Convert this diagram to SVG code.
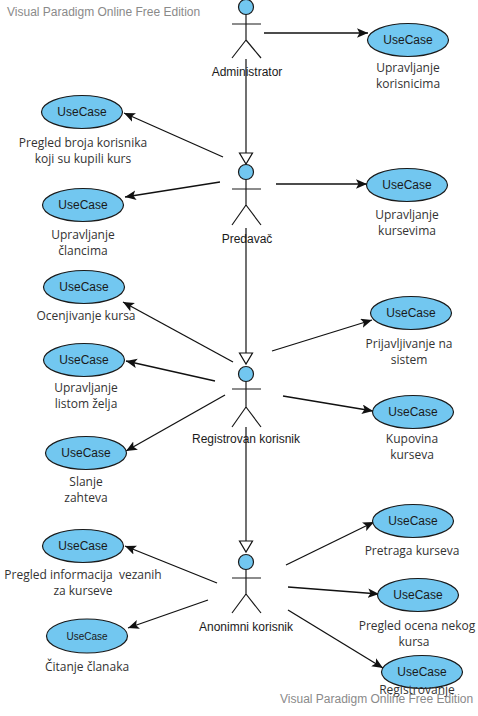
<svg xmlns="http://www.w3.org/2000/svg" width="478" height="716" viewBox="0 0 478 716">
<defs>
<style>
.uc ellipse{fill:#72C7F0;stroke:#1a1a1a;stroke-width:1.2}
.uct{font-family:"Liberation Sans",Arial,sans-serif;font-size:12px;fill:#1a1a1a;text-anchor:middle}
.lbl{font-family:"Open Sans","Noto Sans",sans-serif;font-size:12px;fill:#333;text-anchor:middle}
.act circle{fill:#72C7F0;stroke:#1a1a1a;stroke-width:1.2}
.act path{fill:none;stroke:#1a1a1a;stroke-width:1.2}
.actl{font-family:"Liberation Sans",Arial,sans-serif;font-size:12px;fill:#1a1a1a;text-anchor:middle}
.wm{font-family:"Liberation Sans",Arial,sans-serif;font-size:12px;fill:#8a8a8a}
.assoc{stroke:#111;stroke-width:1.3;fill:none;marker-end:url(#arr)}
.gen{stroke:#111;stroke-width:1.2;fill:none}
.tri{fill:#fff;stroke:#111;stroke-width:1.2}
</style>
<marker id="arr" markerUnits="userSpaceOnUse" markerWidth="12" markerHeight="10" refX="11" refY="4.75" orient="auto">
<path d="M0,0 L11,4.75 L0,9.5 L2.5,4.75 z" fill="#111"/>
</marker>
</defs>
<rect width="478" height="716" fill="#fff"/>

<text class="wm" x="7" y="16">Visual Paradigm Online Free Edition</text>

<g id="connectors">
<line class="gen" x1="246" y1="59" x2="246" y2="153"/>
<polygon class="tri" points="239.5,153 252.5,153 246,164"/>
<line class="gen" x1="246" y1="228" x2="246" y2="353"/>
<polygon class="tri" points="239.5,353 252.5,353 246,364"/>
<line class="gen" x1="246" y1="427" x2="246" y2="541"/>
<polygon class="tri" points="239.5,541 252.5,541 246,552"/>

<line class="assoc" x1="264" y1="33" x2="368" y2="33"/>
<line class="assoc" x1="223" y1="157" x2="124" y2="113"/>
<line class="assoc" x1="220" y1="182" x2="125" y2="197"/>
<line class="assoc" x1="276" y1="184" x2="367" y2="184"/>
<line class="assoc" x1="233" y1="362" x2="123" y2="302"/>
<line class="assoc" x1="215" y1="381" x2="126" y2="361"/>
<line class="assoc" x1="225" y1="395" x2="126" y2="451"/>
<line class="assoc" x1="272" y1="351" x2="372" y2="320"/>
<line class="assoc" x1="283" y1="396" x2="373" y2="411"/>
<line class="assoc" x1="217" y1="583" x2="125" y2="546"/>
<line class="assoc" x1="208" y1="600" x2="128" y2="628"/>
<line class="assoc" x1="286" y1="565" x2="374" y2="522"/>
<line class="assoc" x1="288" y1="587" x2="379" y2="594"/>
<line class="assoc" x1="288" y1="610" x2="383" y2="668"/>
</g>

<g id="actor-administrator" class="act">
<circle cx="246" cy="7" r="7.5"/>
<path d="M246,14.5 V40 M232,24 H261 M246,40 L232,58 M246,40 L261,58"/>
<text class="actl" x="247" y="76">Administrator</text>
</g>
<g id="actor-predavac" class="act">
<circle cx="246" cy="172" r="7.5"/>
<path d="M246,179.5 V205 M232,189 H261 M246,205 L232,225 M246,205 L261,225"/>
<text class="actl" x="247" y="243">Predavač</text>
</g>
<g id="actor-registrovan" class="act">
<circle cx="246" cy="374" r="7.5"/>
<path d="M246,381.5 V407 M232,389 H261 M246,407 L232,427 M246,407 L261,427"/>
<text class="actl" x="246" y="443">Registrovan korisnik</text>
</g>
<g id="actor-anonimni" class="act">
<circle cx="246" cy="562" r="7.5"/>
<path d="M246,569.5 V594 M232,578 H261 M246,594 L232,613 M246,594 L261,613"/>
<text class="actl" x="246" y="631">Anonimni korisnik</text>
</g>

<g id="uc-upravljanje-korisnicima" class="uc">
<ellipse cx="408" cy="40" rx="40.5" ry="16.5"/>
<text class="uct" x="408" y="44">UseCase</text>
<text class="lbl" x="408" y="72">Upravljanje</text>
<text class="lbl" x="408" y="88">korisnicima</text>
</g>
<g id="uc-pregled-broja" class="uc">
<ellipse cx="82" cy="112" rx="40.5" ry="16.5"/>
<text class="uct" x="82" y="116">UseCase</text>
<text class="lbl" x="83" y="146.5">Pregled broja korisnika</text>
<text class="lbl" x="83" y="162.5">koji su kupili kurs</text>
</g>
<g id="uc-upravljanje-clancima" class="uc">
<ellipse cx="83" cy="205" rx="40.5" ry="16.5"/>
<text class="uct" x="83" y="209">UseCase</text>
<text class="lbl" x="83" y="238.5">Upravljanje</text>
<text class="lbl" x="83" y="254.5">člancima</text>
</g>
<g id="uc-upravljanje-kursevima" class="uc">
<ellipse cx="407" cy="185" rx="40.5" ry="16.5"/>
<text class="uct" x="407" y="189">UseCase</text>
<text class="lbl" x="407" y="218.5">Upravljanje</text>
<text class="lbl" x="407" y="234.5">kursevima</text>
</g>
<g id="uc-ocenjivanje" class="uc">
<ellipse cx="84" cy="287" rx="40.5" ry="16.5"/>
<text class="uct" x="84" y="291">UseCase</text>
<text class="lbl" x="86" y="320">Ocenjivanje kursa</text>
</g>
<g id="uc-lista-zelja" class="uc">
<ellipse cx="84" cy="360" rx="40.5" ry="16.5"/>
<text class="uct" x="84" y="364">UseCase</text>
<text class="lbl" x="86" y="391.5">Upravljanje</text>
<text class="lbl" x="86" y="407.5">listom želja</text>
</g>
<g id="uc-slanje-zahteva" class="uc">
<ellipse cx="86" cy="453" rx="40.5" ry="16.5"/>
<text class="uct" x="86" y="457">UseCase</text>
<text class="lbl" x="86" y="485.5">Slanje</text>
<text class="lbl" x="86" y="501.5">zahteva</text>
</g>
<g id="uc-prijavljivanje" class="uc">
<ellipse cx="411" cy="313" rx="40.5" ry="16.5"/>
<text class="uct" x="411" y="317">UseCase</text>
<text class="lbl" x="409" y="347.5">Prijavljivanje na</text>
<text class="lbl" x="409" y="363.5">sistem</text>
</g>
<g id="uc-kupovina" class="uc">
<ellipse cx="413" cy="412" rx="40.5" ry="16.5"/>
<text class="uct" x="413" y="416">UseCase</text>
<text class="lbl" x="412" y="442.5">Kupovina</text>
<text class="lbl" x="412" y="458.5">kurseva</text>
</g>
<g id="uc-pregled-informacija" class="uc">
<ellipse cx="83" cy="546" rx="40.5" ry="16.5"/>
<text class="uct" x="83" y="550">UseCase</text>
<text class="lbl" x="83" y="579" style="white-space:pre">Pregled informacija  vezanih</text>
<text class="lbl" x="83" y="595">za kurseve</text>
</g>
<g id="uc-citanje-clanaka" class="uc">
<ellipse cx="87" cy="636" rx="40.5" ry="17"/>
<text class="uct" x="87" y="639.5" style="font-size:10px">UseCase</text>
<text class="lbl" x="87" y="671">Čitanje članaka</text>
</g>
<g id="uc-pretraga" class="uc">
<ellipse cx="413" cy="521" rx="40.5" ry="16.5"/>
<text class="uct" x="413" y="525">UseCase</text>
<text class="lbl" x="412" y="555">Pretraga kurseva</text>
</g>
<g id="uc-pregled-ocena" class="uc">
<ellipse cx="418" cy="595" rx="40.5" ry="16.5"/>
<text class="uct" x="418" y="599">UseCase</text>
<text class="lbl" x="417" y="629.5">Pregled ocena nekog</text>
<text class="lbl" x="414" y="645.5">kursa</text>
</g>
<g id="uc-registrovanje" class="uc">
<ellipse cx="422" cy="672" rx="40.5" ry="16.5"/>
<text class="uct" x="422" y="676">UseCase</text>
<text class="lbl" x="417" y="694">Registrovanje</text>
</g>

<text class="wm" x="280" y="703">Visual Paradigm Online Free Edition</text>
</svg>
